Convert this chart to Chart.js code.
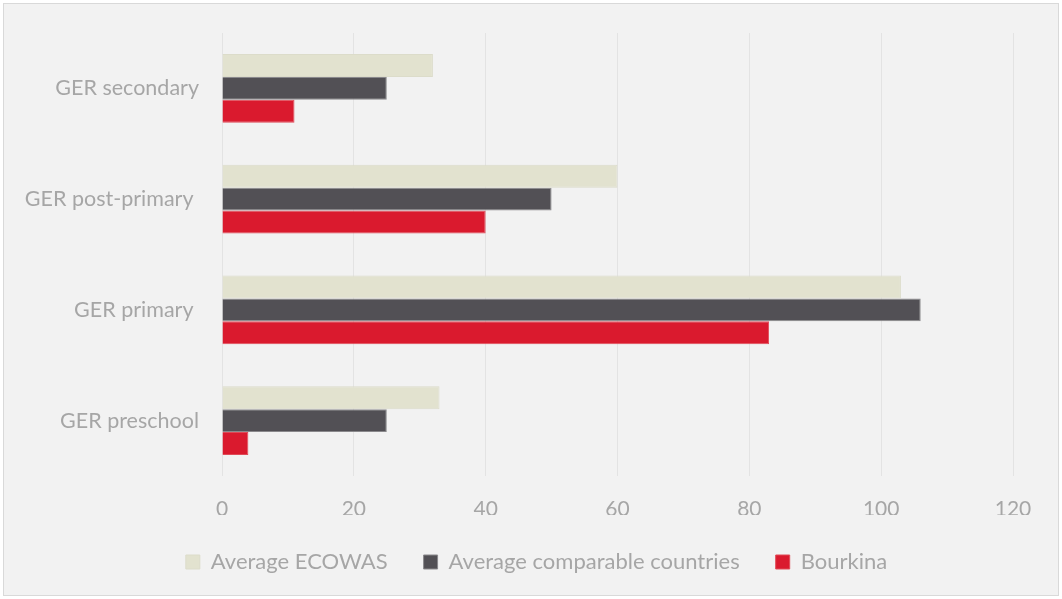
<!DOCTYPE html>
<html><head><meta charset="utf-8">
<script src="https://cdn.jsdelivr.net/npm/chart.js@4"></script>
<style>
html,body{margin:0;padding:0;background:#fff;}
#wrap{position:absolute;left:0;top:0;width:1062px;height:599px;}
#frame{position:absolute;left:3px;top:3px;width:1054px;height:591px;border:1px solid #D9D9D9;background:#F2F2F2;}
canvas{position:absolute;left:0;top:0;}
</style></head>
<body>
<div id="wrap"><div id="frame"></div><canvas id="c" width="1062" height="599"></canvas></div>
<script>
const categories = ["GER secondary", "GER post-primary ", "GER primary ", "GER preschool"];
const ecowas = [32, 60, 103, 33];
const comparable = [25, 50, 106, 25];
const bourkina = [11, 40, 83, 4];
const xTicks = [0, 20, 40, 60, 80, 100, 120];

const FONT = "Lato, 'Open Sans', sans-serif";
const TXT = "#A6A6A6";

const shiftLegend = {
  id: 'shiftLegend',
  afterLayout(chart) {
    const lg = chart.legend;
    if (lg) { lg.left += 30; lg.right += 30; }
  }
};

new Chart(document.getElementById('c'), {
  type: 'bar',
  data: {
    labels: categories,
    datasets: [
      {label: 'Average ECOWAS', data: ecowas, backgroundColor: '#E2E2CF', borderColor: '#DCDCCA', borderWidth: 1},
      {label: 'Average comparable countries', data: comparable, backgroundColor: '#525055', borderColor: '#8A898C', borderWidth: 1},
      {label: 'Bourkina', data: bourkina, backgroundColor: '#DA1A2E', borderColor: '#E04A57', borderWidth: 1}
    ]
  },
  options: {
    indexAxis: 'y',
    responsive: false,
    animation: false,
    devicePixelRatio: 1,
    layout: {padding: {left: 0, right: 49, top: 33, bottom: 16}},
    datasets: {bar: {categoryPercentage: 0.62, barPercentage: 1.0}},
    scales: {
      x: {
        min: 0, max: 120,
        afterBuildTicks: (s) => { s.ticks = xTicks.map(v => ({value: v})); },
        afterFit: (s) => { s.height = 39; },
        grid: {color: '#E3E3E3', lineWidth: 1, drawTicks: false},
        border: {display: false},
        ticks: {color: TXT, font: {family: FONT, size: 21}, padding: 21}
      },
      y: {
        afterFit: (s) => { s.width = 222; },
        grid: {display: false},
        border: {display: false},
        ticks: {color: TXT, font: {family: FONT, size: 21.5}, padding: 15}
      }
    },
    plugins: {
      legend: {
        position: 'bottom',
        labels: {color: TXT, font: {family: FONT, size: 22}, boxWidth: 14, boxHeight: 14, padding: 36, useBorderRadius: false}
      },
      tooltip: {enabled: false}
    }
  },
  plugins: [shiftLegend]
});
</script>
</body></html>
